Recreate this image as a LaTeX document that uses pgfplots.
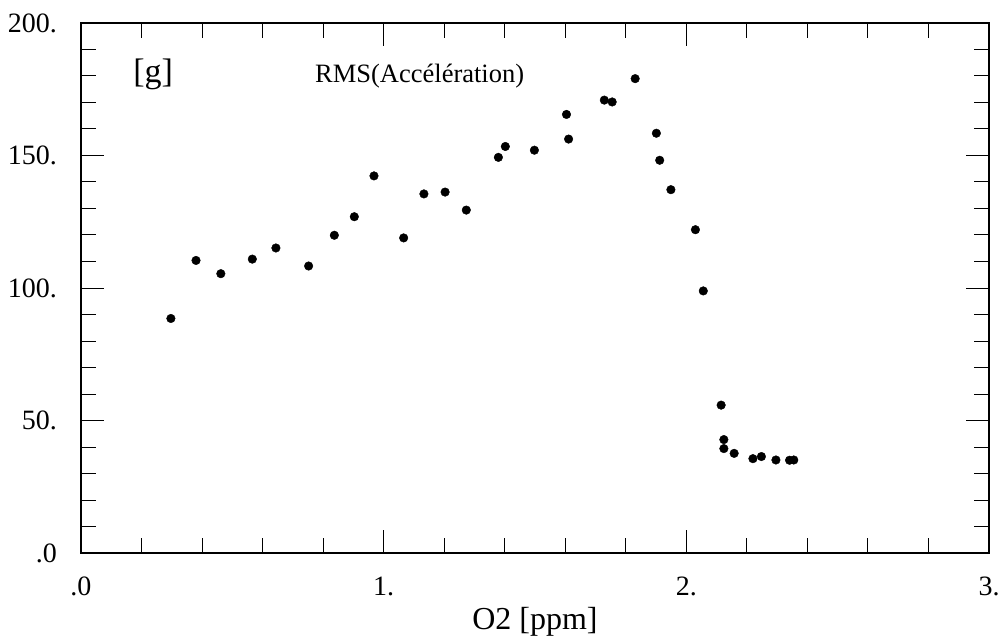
\documentclass[border=0pt]{standalone}
\usepackage{pgfplots}
\pgfplotsset{compat=1.18}
\usepackage{fontspec}
\setmainfont{Liberation Serif}
\begin{document}
\begin{tikzpicture}
\useasboundingbox (-81pt,-82pt) rectangle (920pt,553pt);
\begin{axis}[
  at={(0pt,0pt)}, anchor=south west,
  scale only axis, width=908pt, height=530pt,
  xmin=0, xmax=3, ymin=0, ymax=200,
  xtick={0,1,2,3}, xticklabels={.0,1.,2.,3.},
  ytick={0,50,100,150,200}, yticklabels={.0,50.,100.,150.,200.},
  minor x tick num=4, minor y tick num=4,
  tick align=inside,
  major tick length=23pt, minor tick length=15pt,
  every tick/.style={black, line width=1pt},
  axis line style={line width=1.5pt},
  /pgf/number format/assume math mode=true,
  ticklabel style={font=\fontsize{28}{33}\selectfont, inner sep=0pt},
  xticklabel style={anchor=north, yshift=-24pt},
  yticklabel style={anchor=east, xshift=-24pt},
  xlabel={O2 [ppm]},
  xlabel style={font=\fontsize{32}{38}\selectfont, at={(axis description cs:0.5,0)}, anchor=base, yshift=-76pt, inner sep=0pt},
  clip=false,
]
\addplot[only marks, mark=*, mark size=4.3pt, black] coordinates {
(0.297,88.5) (0.380,110.4) (0.462,105.4) (0.566,110.9) (0.644,115.1)
(0.752,108.3) (0.837,119.9) (0.903,126.9) (0.968,142.3) (1.066,118.9)
(1.133,135.5) (1.203,136.2) (1.273,129.4) (1.379,149.3) (1.402,153.4)
(1.498,152.0) (1.604,165.5) (1.611,156.2) (1.729,170.9) (1.755,170.2)
(1.831,179.0) (1.901,158.4) (1.912,148.2) (1.949,137.1) (2.030,122.0)
(2.056,98.9) (2.115,55.8) (2.124,42.8) (2.124,39.4) (2.158,37.6)
(2.220,35.6) (2.248,36.4) (2.296,35.1) (2.341,35.0) (2.355,35.1)
};
\node[anchor=base west, inner sep=0pt, font=\fontsize{34}{40}\selectfont] at (axis cs:0.172,177.6) {[g]};
\node[anchor=base west, inner sep=0pt, font=\fontsize{26.5}{32}\selectfont] at (axis cs:0.773,177.6) {RMS(Accélération)};
\end{axis}
\end{tikzpicture}
\end{document}
